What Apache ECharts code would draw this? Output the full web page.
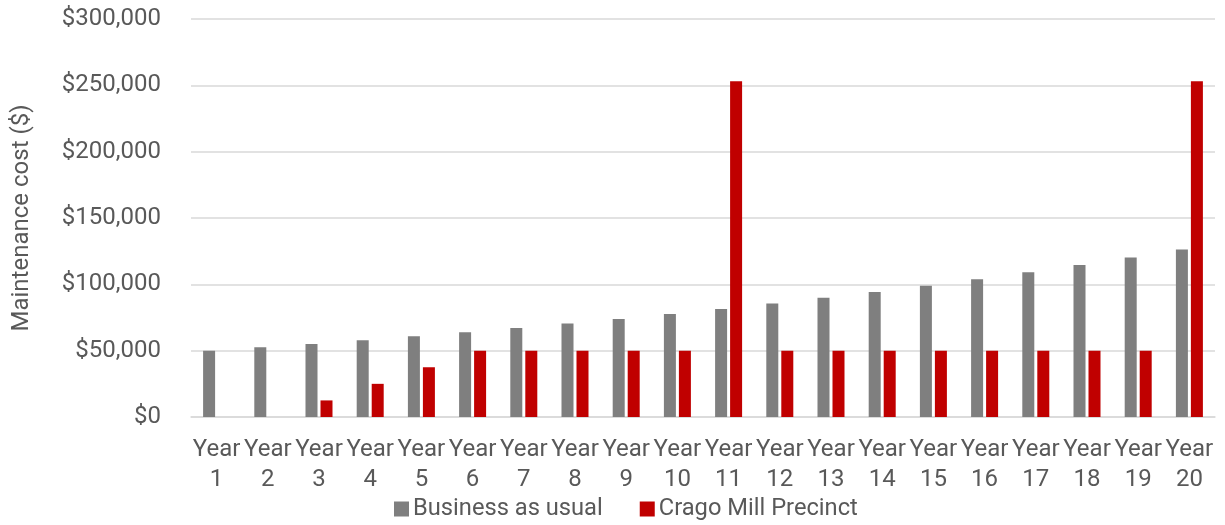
<!DOCTYPE html>
<html>
<head>
<meta charset="utf-8">
<script src="https://cdn.jsdelivr.net/npm/echarts@6/dist/echarts.min.js"></script>
<style>
html,body{margin:0;padding:0;background:#fff;}
#chart{width:1225px;height:525px;}
</style>
</head>
<body>
<div id="chart"></div>
<script>
const categories = ['Year 1','Year 2','Year 3','Year 4','Year 5','Year 6','Year 7','Year 8','Year 9','Year 10',
  'Year 11','Year 12','Year 13','Year 14','Year 15','Year 16','Year 17','Year 18','Year 19','Year 20'];
const businessAsUsual = [50000, 52500, 55100, 57900, 60800, 63800, 67000, 70400, 73900, 77600,
  81400, 85500, 89800, 94300, 99000, 103900, 109100, 114600, 120300, 126300];
const cragoMill = [null, null, 12500, 25000, 37500, 50000, 50000, 50000, 50000, 50000,
  253000, 50000, 50000, 50000, 50000, 50000, 50000, 50000, 50000, 253000];
const seriesNames = ['Business as usual', 'Crago Mill Precinct'];
const yAxisName = 'Maintenance cost ($)';

const font = 'Roboto';
const textColor = '#595959';
const chart = echarts.init(document.getElementById('chart'));
chart.setOption({
  animation: false,
  textStyle: { fontFamily: font },
  grid: { left: 191, right: 10, top: 19, bottom: 108, outerBoundsMode: 'none', containLabel: false },
  legend: {
    bottom: -1,
    left: 389,
    itemWidth: 15, itemHeight: 15, itemGap: 37,
    icon: 'rect',
    textStyle: { fontFamily: font, fontSize: 23.7, color: textColor, padding: [0, 0, 0, -1] },
    data: seriesNames
  },
  xAxis: {
    type: 'category',
    data: categories,
    axisLine: { lineStyle: { color: '#D9D9D9', width: 1.5 } },
    axisTick: { show: false },
    axisLabel: {
      interval: 0,
      margin: 18,
      fontFamily: font, fontSize: 24, color: textColor, lineHeight: 30,
      formatter: v => v.replace(' ', '\n')
    }
  },
  yAxis: {
    type: 'value',
    min: 0, max: 300000, interval: 50000,
    name: yAxisName,
    nameLocation: 'middle',
    nameGap: 157,
    nameTextStyle: { fontFamily: font, fontSize: 24, color: textColor },
    axisLine: { show: false },
    axisTick: { show: false },
    splitLine: { lineStyle: { color: '#D9D9D9', width: 1.5 } },
    axisLabel: {
      margin: 30,
      fontFamily: font, fontSize: 24, color: textColor,
      formatter: v => '$' + v.toLocaleString('en-US')
    }
  },
  series: [
    { name: seriesNames[0], type: 'bar', data: businessAsUsual, barWidth: 12, barGap: '25%',
      itemStyle: { color: '#7F7F7F' } },
    { name: seriesNames[1], type: 'bar', data: cragoMill, barWidth: 12, barGap: '25%',
      itemStyle: { color: '#C00000' } }
  ]
});
</script>
</body>
</html>
